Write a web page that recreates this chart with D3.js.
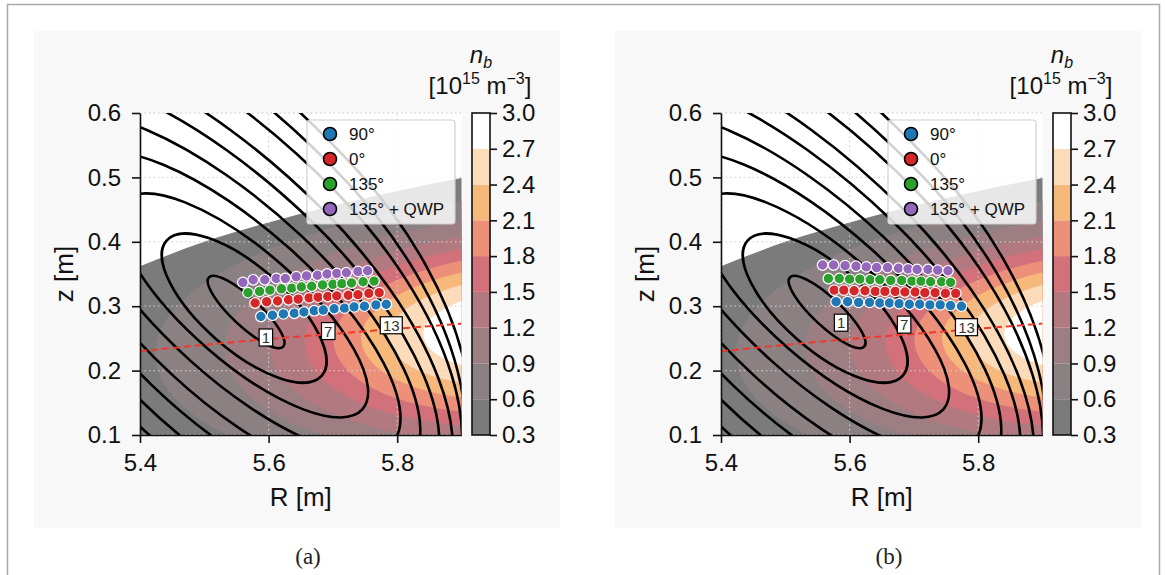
<!DOCTYPE html>
<html>
<head>
<meta charset="utf-8">
<title>Beam density maps</title>
<script src="https://d3js.org/d3.v7.min.js"></script>
<style>
body { margin: 0; background: #fff; }
</style>
</head>
<body>
<svg id="fig" width="1165" height="575"></svg>
<script>
const SANS = "'Liberation Sans', Arial, sans-serif";
const SERIF = "'Liberation Serif', 'DejaVu Serif', serif";

// axes
const R_TICKS = [5.4, 5.6, 5.8];
const Z_TICKS = [0.1, 0.2, 0.3, 0.4, 0.5, 0.6];

// colour bar levels of n_b and the band colours between them
const NB_LEVELS = [0.3, 0.6, 0.9, 1.2, 1.5, 1.8, 2.1, 2.4, 2.7, 3.0];
const NB_COLORS = ["#7b7b7b", "#8b8183", "#9d7e82", "#b27a80", "#d2717a",
                   "#ec9079", "#f6b87b", "#fcdbbb", "#ffffff"];

// upper edge of the region where n_b is defined
const maskEdge = [[5.4, 0.362], [5.5, 0.400], [5.6, 0.430], [5.7, 0.456], [5.8, 0.479], [5.9, 0.499]];

// n_b iso-surfaces (levels 0.6 ... 2.7) around the beam maximum
const nbPeak = [6.0, 0.268];
const nbTilt = -4.5;
const nbAlong = [0.578, 0.470, 0.400, 0.345, 0.300, 0.257, 0.215, 0.160];
const nbUp    = [0.205, 0.175, 0.152, 0.133, 0.116, 0.099, 0.081, 0.060];
const nbDown  = [0.232, 0.200, 0.175, 0.153, 0.133, 0.112, 0.091, 0.068];

// black flux contours: centre, tilt (deg, clockwise), half widths per side
const fluxR    = [5.565, 5.562, 5.562, 5.556, 5.551, 5.546, 5.543, 5.540, 5.537, 5.534];
const fluxZ    = [0.291, 0.297, 0.300, 0.300, 0.303, 0.307, 0.310, 0.313, 0.316, 0.319];
const fluxTilt = [43, 41, 41, 42, 43, 44, 45, 46, 47, 48];
const fluxOut  = [0.079, 0.160, 0.244, 0.318, 0.365, 0.411, 0.443, 0.460, 0.466, 0.478];
const fluxIn   = [0.079, 0.160, 0.248, 0.334, 0.404, 0.466, 0.512, 0.559, 0.606, 0.652];
const fluxUp   = [0.022, 0.065, 0.087, 0.118, 0.146, 0.174, 0.199, 0.233, 0.256, 0.280];
const fluxDown = [0.022, 0.065, 0.087, 0.115, 0.149, 0.182, 0.211, 0.241, 0.269, 0.295];

// beam centre line (red dashed)
const beamLine = [[5.4, 0.230], [5.5, 0.240], [5.6, 0.249], [5.7, 0.257], [5.8, 0.265], [5.9, 0.273]];

// measurement channels 1..13
const SERIES_NAMES = ["90°", "0°", "135°", "135° + QWP"];
const SERIES_COLORS = ["#1f77b4", "#d62728", "#2ca02c", "#9467bd"];
const LABELLED = [1, 7, 13];

const a90 = [[5.588, 0.284], [5.606, 0.286], [5.623, 0.288], [5.640, 0.289], [5.655, 0.291], [5.671, 0.293], [5.685, 0.294],
             [5.702, 0.296], [5.718, 0.297], [5.733, 0.299], [5.749, 0.300], [5.767, 0.302], [5.783, 0.303]];
const a0 = [[5.579, 0.305], [5.597, 0.307], [5.614, 0.308], [5.631, 0.310], [5.646, 0.311], [5.663, 0.313], [5.677, 0.314],
            [5.692, 0.315], [5.706, 0.316], [5.724, 0.317], [5.739, 0.318], [5.756, 0.320], [5.772, 0.321]];
const a135 = [[5.568, 0.321], [5.586, 0.323], [5.602, 0.325], [5.620, 0.327], [5.636, 0.328], [5.651, 0.330], [5.667, 0.331],
              [5.684, 0.333], [5.700, 0.334], [5.714, 0.335], [5.729, 0.336], [5.747, 0.338], [5.764, 0.339]];
const a135q = [[5.560, 0.337], [5.576, 0.341], [5.594, 0.341], [5.612, 0.343], [5.626, 0.343], [5.643, 0.346], [5.659, 0.347],
               [5.676, 0.348], [5.691, 0.350], [5.706, 0.351], [5.721, 0.352], [5.739, 0.354], [5.754, 0.355]];

const b90 = [[5.579, 0.307], [5.597, 0.307], [5.614, 0.306], [5.631, 0.306], [5.647, 0.305], [5.662, 0.305], [5.677, 0.304],
             [5.693, 0.303], [5.709, 0.303], [5.725, 0.302], [5.741, 0.302], [5.757, 0.301], [5.774, 0.300]];
const b0 = [[5.576, 0.325], [5.591, 0.325], [5.607, 0.324], [5.624, 0.324], [5.640, 0.323], [5.655, 0.323], [5.671, 0.323],
            [5.686, 0.322], [5.702, 0.322], [5.717, 0.321], [5.733, 0.321], [5.749, 0.320], [5.765, 0.320]];
const b135 = [[5.567, 0.343], [5.584, 0.343], [5.600, 0.342], [5.616, 0.342], [5.632, 0.341], [5.647, 0.341], [5.664, 0.340],
              [5.681, 0.340], [5.697, 0.339], [5.711, 0.339], [5.726, 0.338], [5.743, 0.338], [5.757, 0.337]];
const b135q = [[5.558, 0.364], [5.575, 0.364], [5.593, 0.363], [5.610, 0.362], [5.626, 0.361], [5.642, 0.360], [5.659, 0.360],
               [5.676, 0.359], [5.691, 0.358], [5.705, 0.357], [5.722, 0.357], [5.737, 0.356], [5.753, 0.355]];

const svg = d3.select("#fig");

// page frame
svg.append("rect")
   .attr("x", 7.5).attr("y", 4.5)
   .attr("width", 1152).attr("height", 620)
   .attr("fill", "none")
   .attr("stroke", "#a9a9a9")
   .attr("stroke-width", 1.5);

// closed curve made of four quarter ellipses (px values)
function eggPath(cx, cy, tilt, aOut, aIn, bUp, bDown) {
    const t = tilt * Math.PI / 180, c = Math.cos(t), s = Math.sin(t);
    const P = (u, v) => [cx + u * c + v * s, cy + u * s - v * c];
    const r = P(aOut, 0), up = P(0, bUp), l = P(-aIn, 0), dn = P(0, -bDown);
    return `M${r}A${aOut},${bUp} ${tilt} 0 0 ${up}` +
           `A${aIn},${bUp} ${tilt} 0 0 ${l}` +
           `A${aIn},${bDown} ${tilt} 0 0 ${dn}` +
           `A${aOut},${bDown} ${tilt} 0 0 ${r}Z`;
}

function drawPanel(offset, tag, series) {
    const g = svg.append("g").attr("transform", `translate(${offset},0)`);

    g.append("rect")
     .attr("x", 34).attr("y", 31)
     .attr("width", 526).attr("height", 497)
     .attr("fill", "#f8f8f8");

    const x = d3.scaleLinear().domain([5.4, 5.9]).range([140, 461.5]);
    const y = d3.scaleLinear().domain([0.1, 0.6]).range([435, 113]);
    const k = (x(5.9) - x(5.4)) / 0.5;

    const defs = g.append("defs");
    defs.append("clipPath").attr("id", "plot-" + tag)
        .append("rect")
        .attr("x", x(5.4)).attr("y", y(0.6))
        .attr("width", x(5.9) - x(5.4)).attr("height", y(0.1) - y(0.6));

    const edgeLine = d3.line().x(d => x(d[0])).y(d => y(d[1])).curve(d3.curveMonotoneX);
    defs.append("clipPath").attr("id", "data-" + tag)
        .append("path")
        .attr("d", edgeLine(maskEdge) + `L${x(5.9)},${y(0.1)}L${x(5.4)},${y(0.1)}Z`);

    // axes background
    g.append("rect")
     .attr("x", x(5.4)).attr("y", y(0.6))
     .attr("width", x(5.9) - x(5.4)).attr("height", y(0.1) - y(0.6))
     .attr("fill", "#fff");

    // filled n_b bands
    const bands = g.append("g").attr("clip-path", `url(#data-${tag})`);
    bands.append("rect")
         .attr("x", x(5.4) - 2).attr("y", y(0.6))
         .attr("width", x(5.9) - x(5.4) + 4).attr("height", y(0.1) - y(0.6) + 2)
         .attr("fill", NB_COLORS[0]);
    nbAlong.forEach((a, i) => {
        bands.append("path")
             .attr("d", eggPath(x(nbPeak[0]), y(nbPeak[1]), nbTilt, a * k, a * k, nbUp[i] * k, nbDown[i] * k))
             .attr("fill", NB_COLORS[i + 1]);
    });

    // dotted grid
    const grid = g.append("g")
                  .attr("stroke", "#d2d2d2")
                  .attr("stroke-width", 1.3)
                  .attr("stroke-dasharray", "1.5,3")
                  .attr("opacity", 0.85);
    R_TICKS.forEach(r => grid.append("line")
        .attr("x1", x(r)).attr("x2", x(r)).attr("y1", y(0.1)).attr("y2", y(0.6)));
    Z_TICKS.forEach(z => grid.append("line")
        .attr("x1", x(5.4)).attr("x2", x(5.9)).attr("y1", y(z)).attr("y2", y(z)));

    // flux contours
    const flux = g.append("g").attr("clip-path", `url(#plot-${tag})`);
    fluxR.forEach((r, i) => {
        flux.append("path")
            .attr("d", eggPath(x(r), y(fluxZ[i]), fluxTilt[i],
                               fluxOut[i] * k, fluxIn[i] * k, fluxUp[i] * k, fluxDown[i] * k))
            .attr("fill", "none")
            .attr("stroke", "#000")
            .attr("stroke-width", 2.6);
    });

    // beam axis
    g.append("path")
     .datum(beamLine)
     .attr("clip-path", `url(#plot-${tag})`)
     .attr("d", d3.line().x(d => x(d[0])).y(d => y(d[1])).curve(d3.curveNatural))
     .attr("fill", "none")
     .attr("stroke", "#ee3a2c")
     .attr("stroke-width", 2)
     .attr("stroke-dasharray", "7,4");

    // channel markers
    series.forEach((pts, s) => {
        g.append("g").selectAll("circle")
         .data(pts)
         .join("circle")
         .attr("cx", d => x(d[0]))
         .attr("cy", d => y(d[1]))
         .attr("r", 5.3)
         .attr("fill", SERIES_COLORS[s])
         .attr("stroke", "#fff")
         .attr("stroke-width", 1.2);
    });

    // channel numbers
    LABELLED.forEach(ch => {
        const p = series[0][ch - 1];
        const cx = x(p[0]) + 5, cy = y(p[1]) + 21;
        const w = String(ch).length * 8.5 + 5;
        g.append("rect")
         .attr("x", cx - w / 2).attr("y", cy - 8.5)
         .attr("width", w).attr("height", 17)
         .attr("fill", "#fff")
         .attr("stroke", "#000")
         .attr("stroke-width", 1.2);
        g.append("text")
         .attr("x", cx).attr("y", cy + 5.5)
         .attr("text-anchor", "middle")
         .attr("font-family", SANS)
         .attr("font-size", 15)
         .attr("fill", "#333")
         .text(ch);
    });

    // legend
    const lg = g.append("g");
    lg.append("rect")
      .attr("x", 307).attr("y", 120)
      .attr("width", 148).attr("height", 104)
      .attr("rx", 3)
      .attr("fill", "#fff")
      .attr("fill-opacity", 0.82)
      .attr("stroke", "#d0d0d0")
      .attr("stroke-width", 1.2);
    SERIES_NAMES.forEach((name, i) => {
        const ly = 134 + i * 25;
        lg.append("circle")
          .attr("cx", 330).attr("cy", ly).attr("r", 6.5)
          .attr("fill", SERIES_COLORS[i])
          .attr("stroke", "#000")
          .attr("stroke-width", 1.6);
        lg.append("text")
          .attr("x", 349).attr("y", ly + 6)
          .attr("font-family", SANS)
          .attr("font-size", 17)
          .attr("fill", "#111")
          .text(name);
    });

    // axes
    const styleAxis = a => {
        a.attr("font-family", SANS).attr("font-size", 24);
        a.selectAll("text").attr("fill", "#111");
        a.selectAll("line,path").attr("stroke", "#111").attr("stroke-width", 1.6);
    };
    g.append("g")
     .attr("transform", `translate(${x(5.4)},0)`)
     .call(d3.axisLeft(y).tickValues(Z_TICKS).tickFormat(d3.format(".1f"))
             .tickSize(8).tickPadding(11).tickSizeOuter(0))
     .call(styleAxis);
    g.append("g")
     .attr("transform", `translate(0,${y(0.1)})`)
     .call(d3.axisBottom(x).tickValues(R_TICKS).tickFormat(d3.format(".1f"))
             .tickSize(8).tickPadding(11).tickSizeOuter(0))
     .call(styleAxis);

    g.append("text")
     .attr("x", (x(5.4) + x(5.9)) / 2).attr("y", 506)
     .attr("text-anchor", "middle")
     .attr("font-family", SANS).attr("font-size", 26).attr("fill", "#111")
     .text("R [m]");
    g.append("text")
     .attr("transform", `translate(73,${(y(0.1) + y(0.6)) / 2}) rotate(-90)`)
     .attr("text-anchor", "middle")
     .attr("font-family", SANS).attr("font-size", 26).attr("fill", "#111")
     .text("z [m]");

    // colour bar
    const yc = d3.scaleLinear().domain([0.3, 3.0]).range([435, 113]);
    const cb = g.append("g");
    NB_COLORS.forEach((col, i) => {
        cb.append("rect")
          .attr("x", 472).attr("width", 18)
          .attr("y", yc(NB_LEVELS[i + 1])).attr("height", yc(NB_LEVELS[i]) - yc(NB_LEVELS[i + 1]))
          .attr("fill", col);
    });
    cb.append("rect")
      .attr("x", 472).attr("y", yc(3.0))
      .attr("width", 18).attr("height", yc(0.3) - yc(3.0))
      .attr("fill", "none")
      .attr("stroke", "#111")
      .attr("stroke-width", 1.6);
    g.append("g")
     .attr("transform", "translate(490,0)")
     .call(d3.axisRight(yc).tickValues(NB_LEVELS).tickFormat(d3.format(".1f"))
             .tickSize(7).tickPadding(5).tickSizeOuter(0))
     .call(styleAxis)
     .call(a => a.select(".domain").remove());

    const t1 = g.append("text")
                .attr("x", 481).attr("y", 63)
                .attr("text-anchor", "middle")
                .attr("font-family", SANS).attr("font-size", 24).attr("fill", "#111")
                .attr("font-style", "italic");
    t1.append("tspan").text("n");
    t1.append("tspan").attr("font-size", 16).attr("dy", 5).text("b");
    const t2 = g.append("text")
                .attr("x", 480).attr("y", 94)
                .attr("text-anchor", "middle")
                .attr("font-family", SANS).attr("font-size", 24).attr("fill", "#111");
    t2.append("tspan").text("[10");
    t2.append("tspan").attr("font-size", 16).attr("dy", -10).text("15");
    t2.append("tspan").attr("dy", 10).text(" m");
    t2.append("tspan").attr("font-size", 16).attr("dy", -10).text("−3");
    t2.append("tspan").attr("dy", 10).text("]");

    // caption
    g.append("text")
     .attr("x", 308).attr("y", 564)
     .attr("text-anchor", "middle")
     .attr("font-family", SERIF).attr("font-size", 23).attr("fill", "#222")
     .text(`(${tag})`);
}

drawPanel(0, "a", [a90, a0, a135, a135q]);
drawPanel(581, "b", [b90, b0, b135, b135q]);
</script>
</body>
</html>
